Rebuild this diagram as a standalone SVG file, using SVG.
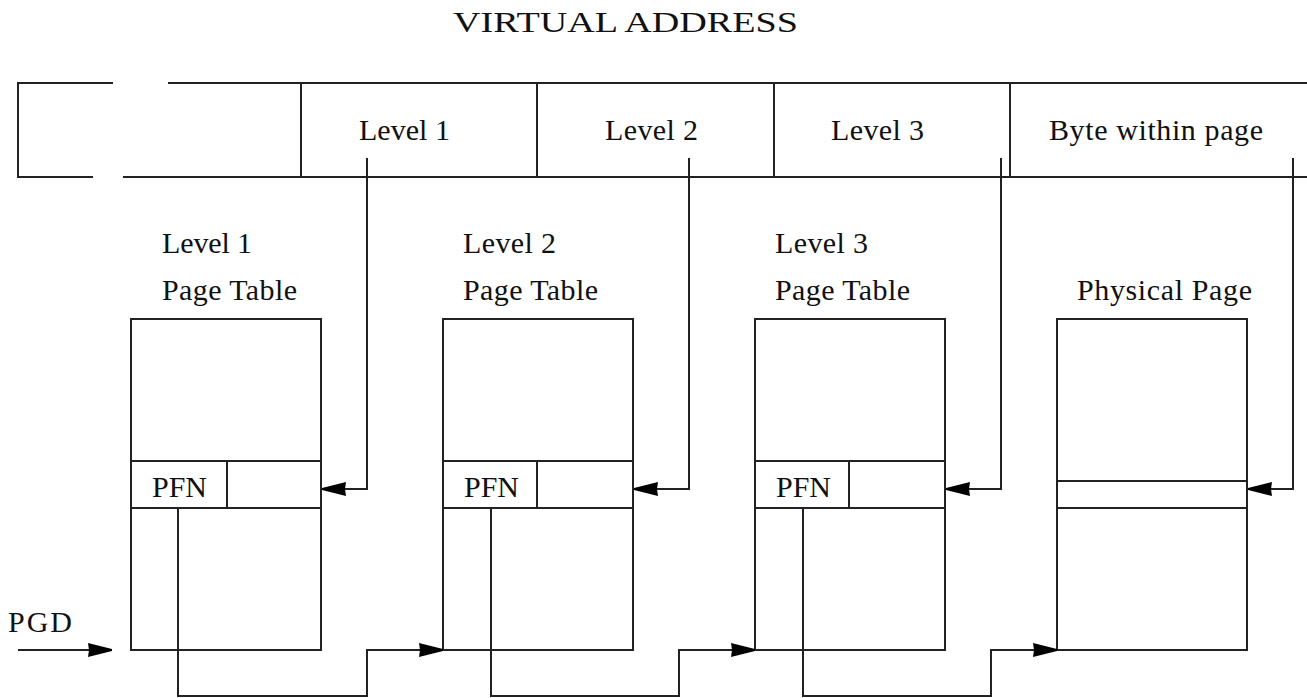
<svg xmlns="http://www.w3.org/2000/svg" width="1307" height="698" viewBox="0 0 1307 698">
<style>
.ln{fill:none;stroke:#222;stroke-width:2}
.t{font-family:"Liberation Serif","Times New Roman",serif;font-size:30px;fill:#111}
.cn{fill:none;stroke:#222;stroke-width:2}
</style>
<defs>
<marker id="ah" markerUnits="userSpaceOnUse" markerWidth="24" markerHeight="14" viewBox="0 0 24 14" refX="24" refY="7" orient="auto">
<path d="M0,0 L24,6 L24,8 L0,14 L1,7 Z" fill="#000"/>
</marker>
</defs>
<rect width="1307" height="698" fill="#fff"/>
<g id="title"><text class="t" x="453" y="32" font-size="31" textLength="345" lengthAdjust="spacingAndGlyphs">VIRTUAL ADDRESS</text></g>
<g id="address">
<path class="ln" d="M113,83 H18 V177 H93 M123,177 H1307 M168,83 H1307 M301,83 V177 M537,83 V177 M774,83 V177 M1010,83 V177"/>
<text class="t" x="359" y="140" textLength="91">Level 1</text>
<text class="t" x="605" y="140" textLength="93">Level 2</text>
<text class="t" x="831" y="140" textLength="93">Level 3</text>
<text class="t" x="1049" y="140" textLength="214">Byte within page</text>
</g>
<g id="pt1">
<text class="t" x="162" y="253" textLength="90">Level 1</text>
<text class="t" x="162" y="300" textLength="135">Page Table</text>
<rect class="ln" x="131" y="319" width="190" height="331"/>
<path class="ln" d="M131,461 H321 M131,508 H321 M227,461 V508"/>
<text class="t" x="152" y="497" textLength="55">PFN</text>
</g>
<g id="pt2">
<text class="t" x="463" y="253" textLength="93">Level 2</text>
<text class="t" x="463" y="300" textLength="135">Page Table</text>
<rect class="ln" x="443" y="319" width="190" height="331"/>
<path class="ln" d="M443,461 H633 M443,508 H633 M537,461 V508"/>
<text class="t" x="464" y="497" textLength="55">PFN</text>
</g>
<g id="pt3">
<text class="t" x="775" y="253" textLength="93">Level 3</text>
<text class="t" x="775" y="300" textLength="135">Page Table</text>
<rect class="ln" x="755" y="319" width="190" height="331"/>
<path class="ln" d="M755,461 H945 M755,508 H945 M849,461 V508"/>
<text class="t" x="776" y="497" textLength="55">PFN</text>
</g>
<g id="page">
<text class="t" x="1077" y="300" textLength="175">Physical Page</text>
<rect class="ln" x="1057" y="319" width="190" height="331"/>
<path class="ln" d="M1057,481 H1247 M1057,508 H1247"/>
</g>
<g id="pgd"><text class="t" x="8" y="632" textLength="64">PGD</text></g>
<g id="connectors">
<path class="cn" d="M18,650 H112" marker-end="url(#ah)"/>
<path class="cn" d="M367,158 V489 H322" marker-end="url(#ah)"/>
<path class="cn" d="M689,158 V489 H634" marker-end="url(#ah)"/>
<path class="cn" d="M1001,158 V489 H946" marker-end="url(#ah)"/>
<path class="cn" d="M1293,158 V489 H1248" marker-end="url(#ah)"/>
<path class="cn" d="M178,508 V696 H367 V650 H443" marker-end="url(#ah)"/>
<path class="cn" d="M491,508 V696 H679 V650 H755" marker-end="url(#ah)"/>
<path class="cn" d="M803,508 V696 H991 V650 H1057" marker-end="url(#ah)"/>
</g>
</svg>
